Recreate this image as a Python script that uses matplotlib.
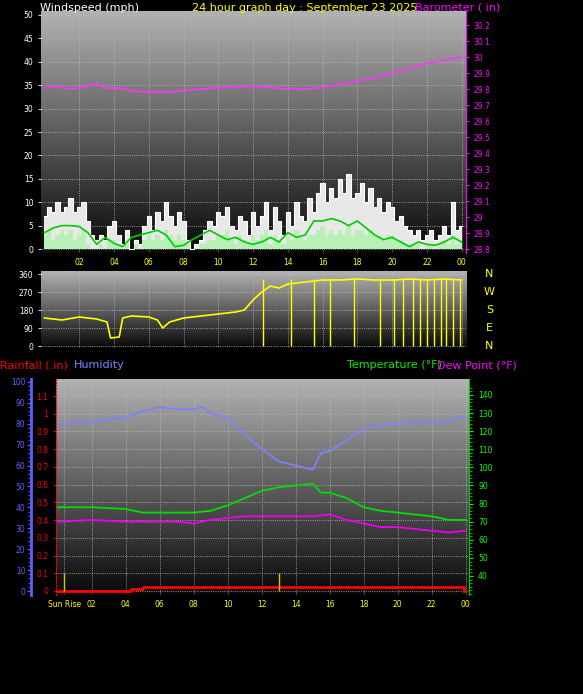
import matplotlib.pyplot as plt
import numpy as np

W, H = 583, 694

# ---- data: wind panel (hours) ----
gust_hours = np.arange(0, 24.01, 0.25)
gust = [7, 9, 8, 10, 8, 9, 11, 8, 9, 10, 6, 3, 2, 3, 2, 5, 6, 3, 1, 4, 0, 2, 1, 5,
        7, 4, 8, 6, 10, 7, 5, 8, 6, 2, 0, 1, 2, 4, 6, 5, 8, 7, 9, 5, 4, 7, 6, 3,
        8, 5, 7, 10, 4, 9, 6, 3, 8, 5, 10, 7, 6, 11, 8, 12, 14, 10, 13, 11, 15, 12, 16, 11,
        12, 14, 10, 13, 9, 11, 8, 10, 9, 6, 7, 5, 4, 3, 4, 2, 3, 4, 2, 3, 5, 3, 10, 4, 5]
avg_speed = [3, 4, 2, 3, 4, 3, 4, 2, 3, 4, 1, 0, 0, 1, 0, 2, 2, 1, 0, 1, 0, 1, 0, 2,
             3, 2, 3, 2, 4, 3, 2, 3, 2, 1, 0, 0, 1, 1, 2, 2, 3, 3, 4, 2, 1, 3, 2, 1,
             3, 2, 3, 4, 1, 3, 2, 1, 3, 2, 4, 3, 2, 3, 3, 4, 5, 3, 4, 3, 4, 3, 5, 3,
             4, 4, 3, 4, 3, 3, 2, 3, 3, 2, 2, 1, 1, 1, 1, 0, 1, 1, 0, 1, 2, 1, 3, 1, 2]
smooth_hours = [0, 0.5, 1, 1.5, 2, 2.5, 3, 3.5, 4, 4.5, 5, 5.5, 6, 6.5, 7, 7.5, 8, 8.5, 9, 9.5,
                10, 10.5, 11, 11.5, 12, 12.5, 13, 13.5, 14, 14.5, 15, 15.5, 16, 16.5, 17,
                17.5, 18, 18.5, 19, 19.5, 20, 20.5, 21, 21.5, 22, 22.5, 23, 23.5, 24]
smooth = [3.5, 4.5, 5, 5, 4.8, 3.5, 1, 2.5, 1.2, 0.5, 2.5, 3, 3.5, 4, 3, 0.5, 0.8, 2, 3, 4,
          3, 2, 2.5, 1.5, 1, 1.5, 2.5, 1.5, 3.5, 2.5, 3, 6, 6, 6.5, 6, 5, 6, 4.5, 3,
          2, 2.5, 1.5, 0.5, 1.5, 1, 0.8, 1.5, 2.5, 1.5]
baro_hours = [0, 1, 1.5, 2, 2.5, 3, 3.5, 4, 4.3, 5, 6, 7, 8, 9, 10, 11, 12, 13, 14, 15, 16,
              17, 18, 19, 20, 21, 22, 23, 24]
baro = [29.82, 29.81, 29.80, 29.81, 29.82, 29.83, 29.81, 29.80, 29.81, 29.79, 29.78, 29.78,
        29.79, 29.80, 29.81, 29.81, 29.82, 29.81, 29.80, 29.80, 29.81, 29.83, 29.85, 29.87,
        29.90, 29.93, 29.96, 29.98, 30.00]

# ---- data: wind direction ----
dir_hours = [0, 1, 2, 3, 3.6, 3.8, 4.3, 4.5, 5, 6, 6.5, 6.8, 7.2, 8, 9, 10, 11, 11.5, 12,
             12.5, 13, 13.5, 14, 15, 16, 17, 18, 19, 20, 21, 22, 23, 24]
direction = [140, 130, 145, 135, 120, 40, 45, 140, 150, 145, 130, 90, 120, 140, 150, 160,
             170, 180, 230, 270, 300, 290, 310, 320, 330, 330, 335, 330, 330, 335, 330,
             335, 330]
dir_spikes = [12.6, 14.2, 15.5, 16.4, 17.8, 19.3, 20.1, 20.6, 21.2, 21.6, 22.0, 22.4,
              22.8, 23.1, 23.5, 23.9]

# ---- data: bottom panel ----
hum_hours = [0, 1, 2, 3, 4, 5, 6, 7, 8, 8.5, 9, 10, 11, 12, 13, 14, 15, 15.5, 16, 17, 18,
             19, 20, 21, 22, 23, 23.5, 24]
humidity = [79, 81, 81, 82, 83, 86, 88, 87, 87, 88, 85, 83, 75, 68, 62, 60, 58, 66, 67,
            72, 78, 79, 80, 81, 81, 81, 83, 83]
temp_hours = [0, 2, 4, 5, 7, 8, 9, 10, 11, 12, 13, 14, 15, 15.5, 16, 17, 18, 19, 20, 21,
              22, 23, 24]
temperature = [78, 78, 77, 75, 75, 75, 76, 79, 83, 87, 89, 90, 91, 86, 86, 83, 78, 76, 75,
               74, 73, 71, 71]
dew_hours = [0, 2, 4, 7, 8, 9, 10, 11, 12, 14, 15, 16, 17, 18, 19, 20, 21, 22, 23, 24]
dew_point = [70, 71, 70, 70, 69, 71, 72, 73, 73, 73, 73, 74, 71, 69, 67, 67, 66, 65, 64, 65]
rain_hours = [0, 4.3, 4.3, 5.0, 5.0, 23.9, 23.9]
rain = [0, 0, 0.01, 0.01, 0.02, 0.02, 0]
markers = [0.4, 13.0]

hour_ticks = list(range(2, 25, 2))
hour_labels = ['%02d' % (h % 24) for h in hour_ticks]


def rect(x0, y0, x1, y1):
    return [x0 / W, 1 - y1 / H, (x1 - x0) / W, (y1 - y0) / H]


def shade(ax):
    grad = np.linspace(0, 1, 256).reshape(-1, 1)
    ax.imshow(grad, cmap='gray', vmin=-0.05, vmax=1.45, aspect='auto',
              extent=[0, 1, 0, 1], transform=ax.transAxes, origin='lower', zorder=0)


def style(ax, color='white'):
    for s in ax.spines.values():
        s.set_visible(False)
    ax.tick_params(colors=color, labelsize=5.5, length=2, width=0.6)
    ax.grid(True, color='#bbbbbb', linestyle=':', linewidth=0.6)
    ax.set_axisbelow(False)


fig = plt.figure(figsize=(W / 100, H / 100), dpi=100, facecolor='black')

# ---- wind speed / barometer ----
ax1 = fig.add_axes(rect(41, 11, 466, 253))
shade(ax1)
style(ax1)
ax1.set_xlim(-0.2, 24.25)
ax1.set_ylim(-0.85, 50.85)
ax1.set_yticks(range(0, 51, 5))
ax1.set_xticks(hour_ticks)
ax1.set_xticklabels(hour_labels, color='yellow')
ax1.tick_params(axis='x', length=0)
ax1.fill_between(gust_hours, avg_speed, gust, color='#e8e8e8', step='mid', lw=0, zorder=3)
ax1.plot(gust_hours, gust, color='white', lw=0.8, drawstyle='steps-mid', zorder=3)
ax1.fill_between(gust_hours, 0, avg_speed, color='#b8f0b8', step='mid', lw=0, zorder=4)
ax1.plot(smooth_hours, smooth, color='#00cc00', lw=1.2, zorder=5)
axb = ax1.twinx()
axb.set_ylim(28.775, 30.288)
axb.set_yticks(np.arange(28.8, 30.21, 0.1))
axb.set_yticklabels(['%g' % round(v, 1) for v in np.arange(28.8, 30.21, 0.1)])
for s in axb.spines.values():
    s.set_visible(False)
axb.spines['right'].set_visible(True)
axb.spines['right'].set_color('#ff00ff')
axb.tick_params(colors='#ff00ff', labelsize=5.5, length=2)
axb.plot(baro_hours, baro, color='#ff33ff', lw=1.2)

fig.text(40 / W, 1 - 8 / H, 'Windspeed (mph)', color='white', fontsize=8, va='center')
fig.text(192 / W, 1 - 8 / H, '24 hour graph day : September 23 2025', color='yellow',
         fontsize=8, va='center')
fig.text(415 / W, 1 - 8 / H, 'Barometer ( in)', color='#ff00ff', fontsize=8, va='center')

# ---- wind direction ----
ax2 = fig.add_axes(rect(41, 271, 466, 348))
shade(ax2)
style(ax2)
ax2.set_xlim(-0.2, 24.25)
ax2.set_ylim(-10, 375)
ax2.set_yticks([0, 90, 180, 270, 360])
ax2.set_xticks(hour_ticks)
ax2.tick_params(axis='x', length=0, labelbottom=False)
ax2.plot(dir_hours, direction, color='yellow', lw=1.2, zorder=3)
ax2.vlines(dir_spikes, 0, 335, color='yellow', lw=1.0, zorder=3)
for lab, val in zip(['N', 'W', 'S', 'E', 'N'], [360, 270, 180, 90, 0]):
    ax2.text(1.055, (val + 10) / 385, lab, transform=ax2.transAxes, color='yellow',
             fontsize=8, ha='center', va='center')

# ---- temperature / humidity / rain ----
ax3 = fig.add_axes(rect(56, 379, 469, 595))
shade(ax3)
style(ax3)
ax3.set_xlim(-0.1, 24.2)
ax3.set_ylim(-0.0226, 1.196)
ax3.set_yticks(np.arange(0, 1.11, 0.1))
ax3.set_yticklabels(['%g' % round(v, 1) for v in np.arange(0, 1.11, 0.1)])
ax3.tick_params(axis='y', colors='red')
ax3.spines['left'].set_visible(True)
ax3.spines['left'].set_color('red')
ax3.spines['left'].set_linestyle(':')
ax3.set_xticks([0.4] + hour_ticks)
ax3.set_xticklabels(['Sun Rise'] + hour_labels, color='yellow')
ax3.tick_params(axis='x', length=0)
ax3.plot(rain_hours, rain, color='red', lw=2, zorder=6)
ax3.vlines(markers, 0, 0.1, color='#cccc00', lw=1, zorder=6)

axh = ax3.twinx()
axh.set_ylim(-1.9, 101.4)
axh.plot(hum_hours, humidity, color='#8080ff', lw=1.3)
axh.yaxis.set_ticks_position('left')
axh.yaxis.set_label_position('left')
axh.spines['left'].set_position(('outward', 18))
for s in ['top', 'right', 'bottom']:
    axh.spines[s].set_visible(False)
axh.spines['left'].set_color('#6060ff')
axh.spines['left'].set_linewidth(2)
axh.set_yticks(range(0, 101, 10))
axh.set_yticks(range(0, 101, 2), minor=True)
axh.tick_params(axis='y', colors='#6060ff', labelsize=5.5, length=3, pad=1)
axh.tick_params(axis='y', which='minor', colors='#6060ff', length=2)

axt = ax3.twinx()
axt.set_ylim(29.5, 148.8)
axt.set_yticks(range(40, 141, 10))
axt.set_yticks(range(30, 146, 2), minor=True)
for s in ['top', 'left', 'bottom']:
    axt.spines[s].set_visible(False)
axt.spines['right'].set_color('#00cc00')
axt.tick_params(axis='y', colors='#00ff00', labelsize=5.5, length=3)
axt.tick_params(axis='y', which='minor', colors='#00cc00', length=2)
axt.plot(temp_hours, temperature, color='#00dd00', lw=1.3)
axt.plot(dew_hours, dew_point, color='#ee00ee', lw=1.3)

fig.text(0, 1 - 365 / H, 'Rainfall (.in)', color='red', fontsize=8, va='center')
fig.text(74 / W, 1 - 365 / H, 'Humidity', color='#8080ff', fontsize=8, va='center')
fig.text(347 / W, 1 - 365 / H, 'Temperature (°F)', color='#00ee00', fontsize=8,
         va='center')
fig.text(437 / W, 1 - 365 / H, 'Dew Point (°F)', color='#ff00ff', fontsize=8, va='center')

fig.savefig('out.png', dpi=100, facecolor='black')
